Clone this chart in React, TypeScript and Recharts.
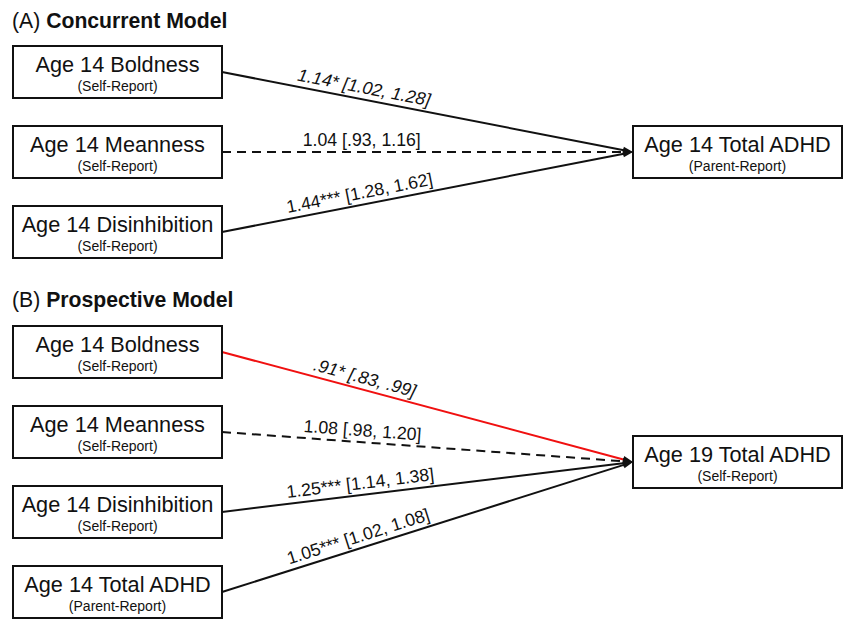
import { ComposedChart, XAxis, YAxis, Scatter, ReferenceLine } from "recharts";

// Panel A: concurrent model (age 14 predictors -> age 14 ADHD, parent report)
const predictorsA = ["Age 14 Boldness", "Age 14 Meanness", "Age 14 Disinhibition"];
const reportersA = ["Self-Report", "Self-Report", "Self-Report"];
const oddsA = [1.14, 1.04, 1.44];
const lowA = [1.02, 0.93, 1.28];
const highA = [1.28, 1.16, 1.62];
const starsA = ["*", "", "***"];
const outcomeA = "Age 14 Total ADHD";
const outcomeReporterA = "Parent-Report";

// Panel B: prospective model (age 14 predictors -> age 19 ADHD, self report)
const predictorsB = ["Age 14 Boldness", "Age 14 Meanness", "Age 14 Disinhibition", "Age 14 Total ADHD"];
const reportersB = ["Self-Report", "Self-Report", "Self-Report", "Parent-Report"];
const oddsB = [0.91, 1.08, 1.25, 1.05];
const lowB = [0.83, 0.98, 1.14, 1.02];
const highB = [0.99, 1.2, 1.38, 1.08];
const starsB = ["*", "", "***", "***"];
const outcomeB = "Age 19 Total ADHD";
const outcomeReporterB = "Self-Report";

const titles = [
  { tag: "(A)", name: "Concurrent Model" },
  { tag: "(B)", name: "Prospective Model" },
];

// layout
const W = 851;
const H = 619;
const BOX_W = 209;
const BOX_H = 52;
const LEFT_X = 13 + BOX_W / 2;
const RIGHT_X = 633 + BOX_W / 2;
const ROW_GAP = 80;
const FONT = "'Liberation Sans', Arial, sans-serif";
const INK = "#111";

const panels = [
  { firstRow: 72, outcomeY: 152, titleY: 28 },
  { firstRow: 352, outcomeY: 462, titleY: 307 },
];

const fmt = (v: number) => (v < 1 ? v.toFixed(2).slice(1) : v.toFixed(2));

function buildPanel(
  p: number,
  names: string[],
  reporters: string[],
  odds: number[],
  low: number[],
  high: number[],
  stars: string[],
  outcome: string,
  outcomeReporter: string
) {
  const { firstRow, outcomeY } = panels[p];
  const nodes = names.map((name, i) => ({
    x: LEFT_X,
    y: firstRow + i * ROW_GAP,
    name,
    reporter: reporters[i],
  }));
  nodes.push({ x: RIGHT_X, y: outcomeY, name: outcome, reporter: outcomeReporter });
  const edges = names.map((_, i) => ({
    from: { x: LEFT_X + BOX_W / 2, y: firstRow + i * ROW_GAP },
    to: { x: RIGHT_X - BOX_W / 2, y: outcomeY },
    text: `${fmt(odds[i])}${stars[i]} [${fmt(low[i])}, ${fmt(high[i])}]`,
    dashed: stars[i] === "",
    italic: stars[i] === "*",
    color: odds[i] < 1 ? "#f01010" : INK,
  }));
  return { nodes, edges };
}

const panelA = buildPanel(0, predictorsA, reportersA, oddsA, lowA, highA, starsA, outcomeA, outcomeReporterA);
const panelB = buildPanel(1, predictorsB, reportersB, oddsB, lowB, highB, starsB, outcomeB, outcomeReporterB);
const nodes = [...panelA.nodes, ...panelB.nodes];
const edges = [...panelA.edges, ...panelB.edges];

function NodeBox(props: any) {
  const { cx, cy, payload } = props;
  const x = cx - BOX_W / 2;
  const y = cy - BOX_H / 2;
  return (
    <g>
      <rect x={x} y={y} width={BOX_W} height={BOX_H} fill="#fff" stroke={INK} strokeWidth={2} />
      <text x={cx} y={y + 26} textAnchor="middle" fontSize={21.7} fontFamily={FONT} fill={INK}>
        {payload.name}
      </text>
      <text x={cx} y={y + 45} textAnchor="middle" fontSize={14} fontFamily={FONT} fill={INK}>
        ({payload.reporter})
      </text>
    </g>
  );
}

function EdgePath(props: any) {
  const { x1, y1, x2, y2, edge } = props;
  const dx = x2 - x1;
  const dy = y2 - y1;
  const len = Math.sqrt(dx * dx + dy * dy);
  const ux = dx / len;
  const uy = dy / len;
  const deg = (Math.atan2(dy, dx) * 180) / Math.PI;
  const head = 10;
  const half = 3.5;
  const bx = x2 - ux * head;
  const by = y2 - uy * head;
  const arrow = `${x2},${y2} ${bx - uy * half},${by + ux * half} ${bx + uy * half},${by - ux * half}`;
  const t = 0.34;
  const px = x1 + dx * t;
  const py = y1 + dy * t;
  return (
    <g>
      <line
        x1={x1}
        y1={y1}
        x2={bx + ux * 2}
        y2={by + uy * 2}
        stroke={edge.color}
        strokeWidth={2}
        strokeDasharray={edge.dashed ? "9 6" : undefined}
      />
      <polygon points={arrow} fill={INK} />
      <text
        x={px}
        y={py}
        dy={-6}
        transform={`rotate(${deg} ${px} ${py})`}
        textAnchor="middle"
        fontSize={17.7}
        fontFamily={FONT}
        fontStyle={edge.italic ? "italic" : "normal"}
        fill={INK}
      >
        {edge.text}
      </text>
    </g>
  );
}

export default function App() {
  return (
    <div style={{ position: "absolute", left: 0, top: 0, width: W, height: H, background: "#fff" }}>
      <ComposedChart width={W} height={H} margin={{ top: 0, right: 0, bottom: 0, left: 0 }}>
        <XAxis type="number" dataKey="x" domain={[0, W]} hide />
        <YAxis type="number" dataKey="y" domain={[0, H]} reversed hide />
        {edges.map((e, i) => (
          <ReferenceLine
            key={i}
            segment={[e.from, e.to]}
            ifOverflow="visible"
            shape={(p: any) => <EdgePath {...p} edge={e} />}
          />
        ))}
        <Scatter data={nodes} isAnimationActive={false} shape={(p: any) => <NodeBox {...p} />} />
      </ComposedChart>
      <svg width={W} height={H} style={{ position: "absolute", left: 0, top: 0, pointerEvents: "none" }}>
        {titles.map((t, i) => (
          <text key={i} x={12} y={panels[i].titleY} fontSize={21.2} fontFamily={FONT} fill={INK}>
            {t.tag} <tspan fontWeight="bold">{t.name}</tspan>
          </text>
        ))}
      </svg>
    </div>
  );
}
